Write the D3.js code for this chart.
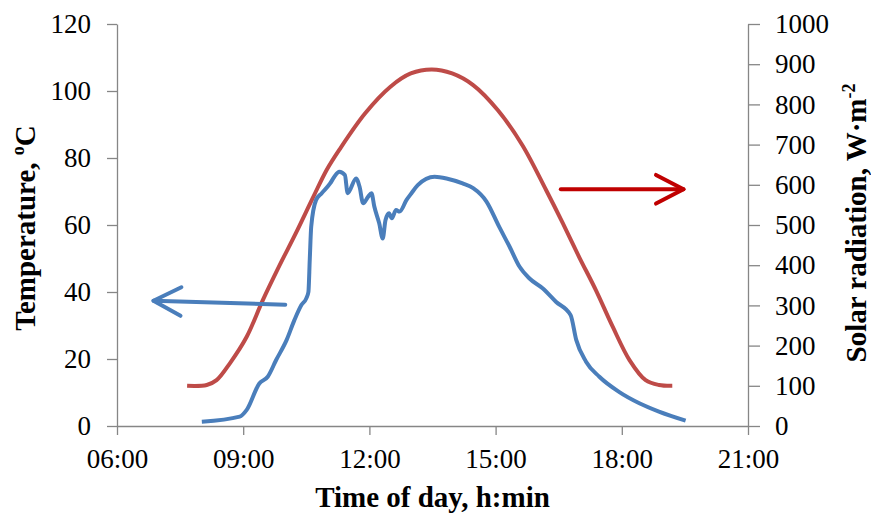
<!DOCTYPE html>
<html>
<head>
<meta charset="utf-8">
<script src="https://cdn.jsdelivr.net/npm/d3@7"></script>
<style>
  body { margin: 0; background: #fff; }
  svg text { font-family: "Liberation Serif", "Times New Roman", serif; }
  .axis path, .axis line { stroke: #868686; stroke-width: 1.3; }
  .axis text { fill: #000; font-size: 27px; }
  .title { font-weight: bold; font-size: 29px; fill: #000; }
</style>
</head>
<body>
<div id="chart"></div>
<script>
// solar radiation, W/m2 (right axis)
var solarTime = ["07:40","08:08","08:22","08:41","09:05","09:28","09:52","10:16","10:40","10:59",
  "11:17","11:54","12:30","12:59","13:29","13:58","14:28","15:03","15:38","16:12",
  "16:36","16:59","17:23","17:47","18:11","18:34","18:53","19:12"];
var solarVal = [100,102,114,156,222,313,400,483,570,637,
  687,778,844,877,887,877,848,786,699,587,
  504,421,338,247,164,114,102,100];

// temperature, degC (left axis)
var tempTime = ["08:01","08:55","09:05","09:23","09:35","09:47","10:02","10:13","10:23","10:30",
  "10:33","10:35","10:37","10:44","10:52","11:04","11:10","11:17","11:25","11:29",
  "11:41","11:46","11:51","11:58","12:03","12:07","12:14","12:19","12:23","12:28",
  "12:32","12:38","12:43","12:53","13:00","13:09","13:33","13:50","14:13","14:28",
  "14:47","15:05","15:20","15:34","15:48","16:07","16:26","16:47","16:55","17:09",
  "17:28","17:56","18:25","18:53","19:31"];
var tempVal = [1.3,2.8,4.8,12.7,14.7,19.7,25.7,31.6,36.1,38.1,
  40.0,50.0,59.5,67.5,69.5,72.4,74.4,75.9,74.9,69.5,
  73.9,71.4,66.5,68.4,69.5,65.5,60.5,56.0,61.5,63.5,
  62.0,64.5,64.0,67.5,69.5,71.9,74.4,73.9,72.4,71.0,
  67.0,59.5,53.5,47.6,44.1,41.1,37.1,33.1,25.7,19.2,
  14.7,10.2,6.8,4.3,1.6];

var xTicks = ["06:00","09:00","12:00","15:00","18:00","21:00"];
var tempTicks = [0,20,40,60,80,100,120];
var solarTicks = [0,100,200,300,400,500,600,700,800,900,1000];

// arrows: [fromTime, fromValue, toTime, toValue]
var tempArrow = ["10:00", 36.2, "06:52", 37.4];
var solarArrow = ["16:33", 589, "19:28", 589];

var W = 871, H = 515;
var margin = {top: 24, right: 123, bottom: 89, left: 117};

var parse = d3.timeParse("%H:%M");
var fmt = d3.timeFormat("%H:%M");

var x = d3.scaleTime()
  .domain([parse("06:00"), parse("21:00")])
  .range([margin.left, W - margin.right]);
var yT = d3.scaleLinear().domain([0, 120]).range([H - margin.bottom, margin.top]);
var yS = d3.scaleLinear().domain([0, 1000]).range([H - margin.bottom, margin.top]);

var svg = d3.select("#chart").append("svg")
  .attr("width", W).attr("height", H);

// axes
svg.append("g").attr("class", "axis")
  .attr("transform", "translate(0," + (H - margin.bottom) + ")")
  .call(d3.axisBottom(x).tickValues(xTicks.map(parse)).tickFormat(fmt)
    .tickSize(9).tickSizeOuter(0).tickPadding(14))
  .call(g => g.selectAll(".tick text").attr("dy", "0.71em"));

svg.append("g").attr("class", "axis")
  .attr("transform", "translate(" + margin.left + ",0)")
  .call(d3.axisLeft(yT).tickValues(tempTicks).tickSize(10).tickSizeOuter(0).tickPadding(16));

svg.append("g").attr("class", "axis")
  .attr("transform", "translate(" + (W - margin.right) + ",0)")
  .call(d3.axisRight(yS).tickValues(solarTicks).tickFormat(d3.format("d"))
    .tickSize(12).tickSizeOuter(0).tickPadding(15));

svg.selectAll(".axis .domain").attr("fill", "none");

// curves
var solar = solarTime.map((t, i) => ({t: parse(t), v: solarVal[i]}));
var temp = tempTime.map((t, i) => ({t: parse(t), v: tempVal[i]}));

svg.append("path")
  .datum(solar)
  .attr("fill", "none")
  .attr("stroke", "#be4b48")
  .attr("stroke-width", 4)
  .attr("d", d3.line().x(d => x(d.t)).y(d => yS(d.v)).curve(d3.curveCatmullRom.alpha(0.5)));

svg.append("path")
  .datum(temp)
  .attr("fill", "none")
  .attr("stroke", "#4a7ebb")
  .attr("stroke-width", 4)
  .attr("stroke-linejoin", "round")
  .attr("d", d3.line().x(d => x(d.t)).y(d => yT(d.v)).curve(d3.curveMonotoneX));

// arrows
function arrow(a, yScale, color) {
  var x0 = x(parse(a[0])), y0 = yScale(a[1]), x1 = x(parse(a[2])), y1 = yScale(a[3]);
  var ang = Math.atan2(y1 - y0, x1 - x0), len = 31, spread = 0.48;
  var g = svg.append("g").attr("fill", "none").attr("stroke", color)
    .attr("stroke-width", 4).attr("stroke-linecap", "round").attr("stroke-linejoin", "round");
  g.append("line").attr("x1", x0).attr("y1", y0).attr("x2", x1).attr("y2", y1);
  g.append("path").attr("d", d3.line()([
    [x1 - len * Math.cos(ang - spread), y1 - len * Math.sin(ang - spread)],
    [x1, y1],
    [x1 - len * Math.cos(ang + spread), y1 - len * Math.sin(ang + spread)]
  ]));
}
arrow(tempArrow, yT, "#4a7ebb");
arrow(solarArrow, yS, "#c00000");

// titles
svg.append("text").attr("class", "title")
  .attr("text-anchor", "middle")
  .attr("transform", "translate(" + ((margin.left + W - margin.right) / 2) + ",507)")
  .text("Time of day, h:min");

var lt = svg.append("text").attr("class", "title")
  .attr("text-anchor", "middle")
  .attr("transform", "translate(35,228) rotate(-90)");
lt.append("tspan").text("Temperature, ");
lt.append("tspan").attr("dy", -11).style("font-size", "18px").text("o");
lt.append("tspan").attr("dy", 11).text("C");

var rt = svg.append("text").attr("class", "title")
  .attr("text-anchor", "middle")
  .attr("transform", "translate(866,223) rotate(-90)");
rt.append("tspan").text("Solar radiation, W·m");
rt.append("tspan").attr("dy", -11).style("font-size", "18px").text("-2");
</script>
</body>
</html>
